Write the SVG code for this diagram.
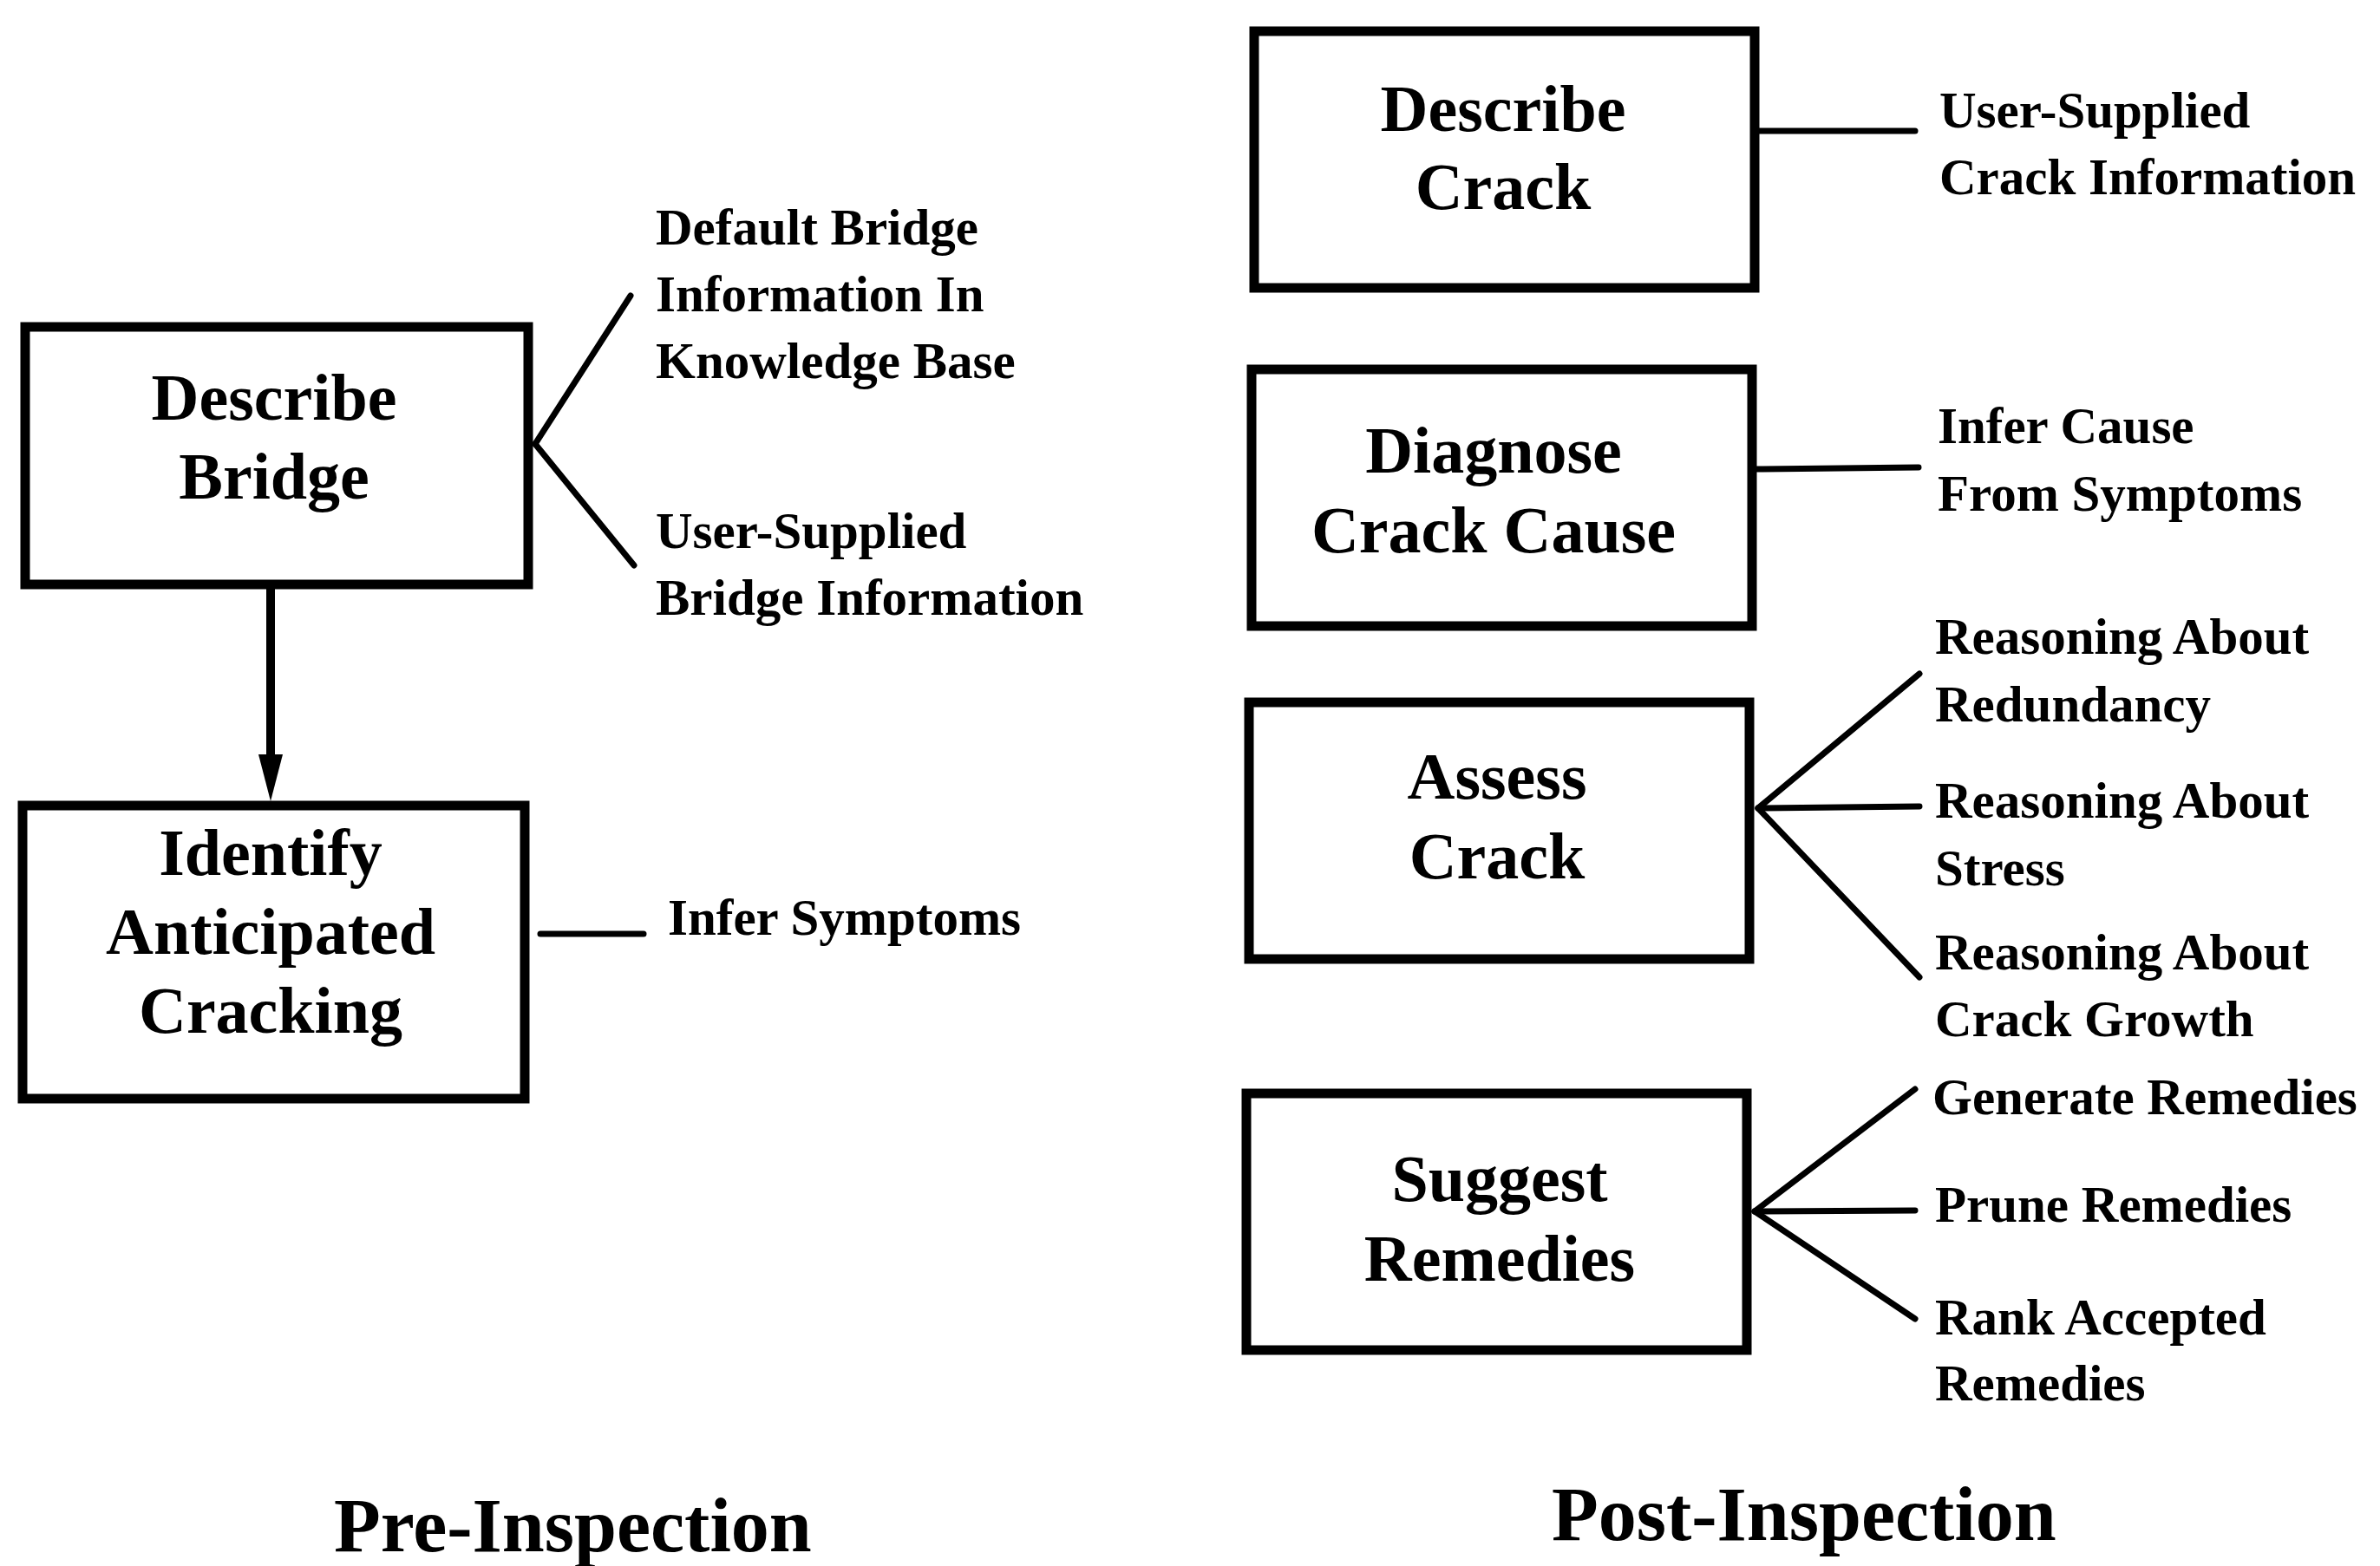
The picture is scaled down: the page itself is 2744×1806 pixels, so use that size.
<svg xmlns="http://www.w3.org/2000/svg" width="2744" height="1806" viewBox="0 0 2744 1806">
<style>
.box{fill:#fff;stroke:#000;stroke-width:11}
.bl{font-family:"Liberation Serif","Times New Roman",serif;font-weight:bold;font-size:76px;text-anchor:middle;fill:#000}
.lb{font-family:"Liberation Serif","Times New Roman",serif;font-weight:bold;font-size:59px;fill:#000}
.tt{font-family:"Liberation Serif","Times New Roman",serif;font-weight:bold;font-size:88px;fill:#000}
.ln{stroke:#000;stroke-width:7;fill:none;stroke-linecap:round}
</style>
<rect width="2744" height="1806" fill="#fff"/>
<g id="connectors">
<line class="ln" x1="312" y1="675" x2="312" y2="880" style="stroke-width:10"/>
<polygon points="298,870 326,870 312,924" fill="#000"/>
<line class="ln" x1="617" y1="512" x2="727" y2="341"/>
<line class="ln" x1="617" y1="512" x2="731" y2="652"/>
<line class="ln" x1="623" y1="1077" x2="742" y2="1077"/>
<line class="ln" x1="2028" y1="151" x2="2208" y2="151"/>
<line class="ln" x1="2025" y1="541" x2="2212" y2="539"/>
<line class="ln" x1="2027" y1="932" x2="2213" y2="777"/>
<line class="ln" x1="2027" y1="932" x2="2213" y2="930"/>
<line class="ln" x1="2027" y1="932" x2="2213" y2="1127"/>
<line class="ln" x1="2023" y1="1397" x2="2208" y2="1256"/>
<line class="ln" x1="2023" y1="1397" x2="2208" y2="1396"/>
<line class="ln" x1="2023" y1="1397" x2="2208" y2="1521"/>
</g>
<g id="describe-bridge">
<rect class="box" x="29" y="377" width="580" height="297"/>
<text class="bl" x="316" y="484">Describe</text>
<text class="bl" x="316" y="575">Bridge</text>
</g>
<g id="identify-cracking">
<rect class="box" x="26" y="929" width="579" height="338"/>
<text class="bl" x="312" y="1009">Identify</text>
<text class="bl" x="312" y="1100">Anticipated</text>
<text class="bl" x="312" y="1191">Cracking</text>
</g>
<g id="bridge-labels">
<text class="lb" x="756" y="282">Default Bridge</text>
<text class="lb" x="756" y="359">Information In</text>
<text class="lb" x="756" y="436">Knowledge Base</text>
<text class="lb" x="756" y="632">User-Supplied</text>
<text class="lb" x="756" y="709">Bridge Information</text>
<text class="lb" x="770" y="1078">Infer Symptoms</text>
</g>
<g id="describe-crack">
<rect class="box" x="1446" y="36" width="577" height="296"/>
<text class="bl" x="1733" y="151">Describe</text>
<text class="bl" x="1733" y="241">Crack</text>
</g>
<g id="diagnose-cause">
<rect class="box" x="1443" y="426" width="577" height="296"/>
<text class="bl" x="1722" y="545">Diagnose</text>
<text class="bl" x="1722" y="637">Crack Cause</text>
</g>
<g id="assess-crack">
<rect class="box" x="1440" y="810" width="577" height="296"/>
<text class="bl" x="1726" y="921">Assess</text>
<text class="bl" x="1726" y="1013">Crack</text>
</g>
<g id="suggest-remedies">
<rect class="box" x="1437" y="1261" width="577" height="296"/>
<text class="bl" x="1729" y="1385">Suggest</text>
<text class="bl" x="1729" y="1477">Remedies</text>
</g>
<g id="crack-labels">
<text class="lb" x="2236" y="147">User-Supplied</text>
<text class="lb" x="2236" y="224">Crack Information</text>
<text class="lb" x="2234" y="511">Infer Cause</text>
<text class="lb" x="2234" y="589">From Symptoms</text>
<text class="lb" x="2231" y="754">Reasoning About</text>
<text class="lb" x="2231" y="832">Redundancy</text>
<text class="lb" x="2231" y="943">Reasoning About</text>
<text class="lb" x="2231" y="1021">Stress</text>
<text class="lb" x="2231" y="1118">Reasoning About</text>
<text class="lb" x="2231" y="1195">Crack Growth</text>
<text class="lb" x="2228" y="1285">Generate Remedies</text>
<text class="lb" x="2231" y="1409">Prune Remedies</text>
<text class="lb" x="2231" y="1539">Rank Accepted</text>
<text class="lb" x="2231" y="1615">Remedies</text>
</g>
<g id="titles">
<text class="tt" x="385" y="1789">Pre-Inspection</text>
<text class="tt" x="1789" y="1776">Post-Inspection</text>
</g>
</svg>
